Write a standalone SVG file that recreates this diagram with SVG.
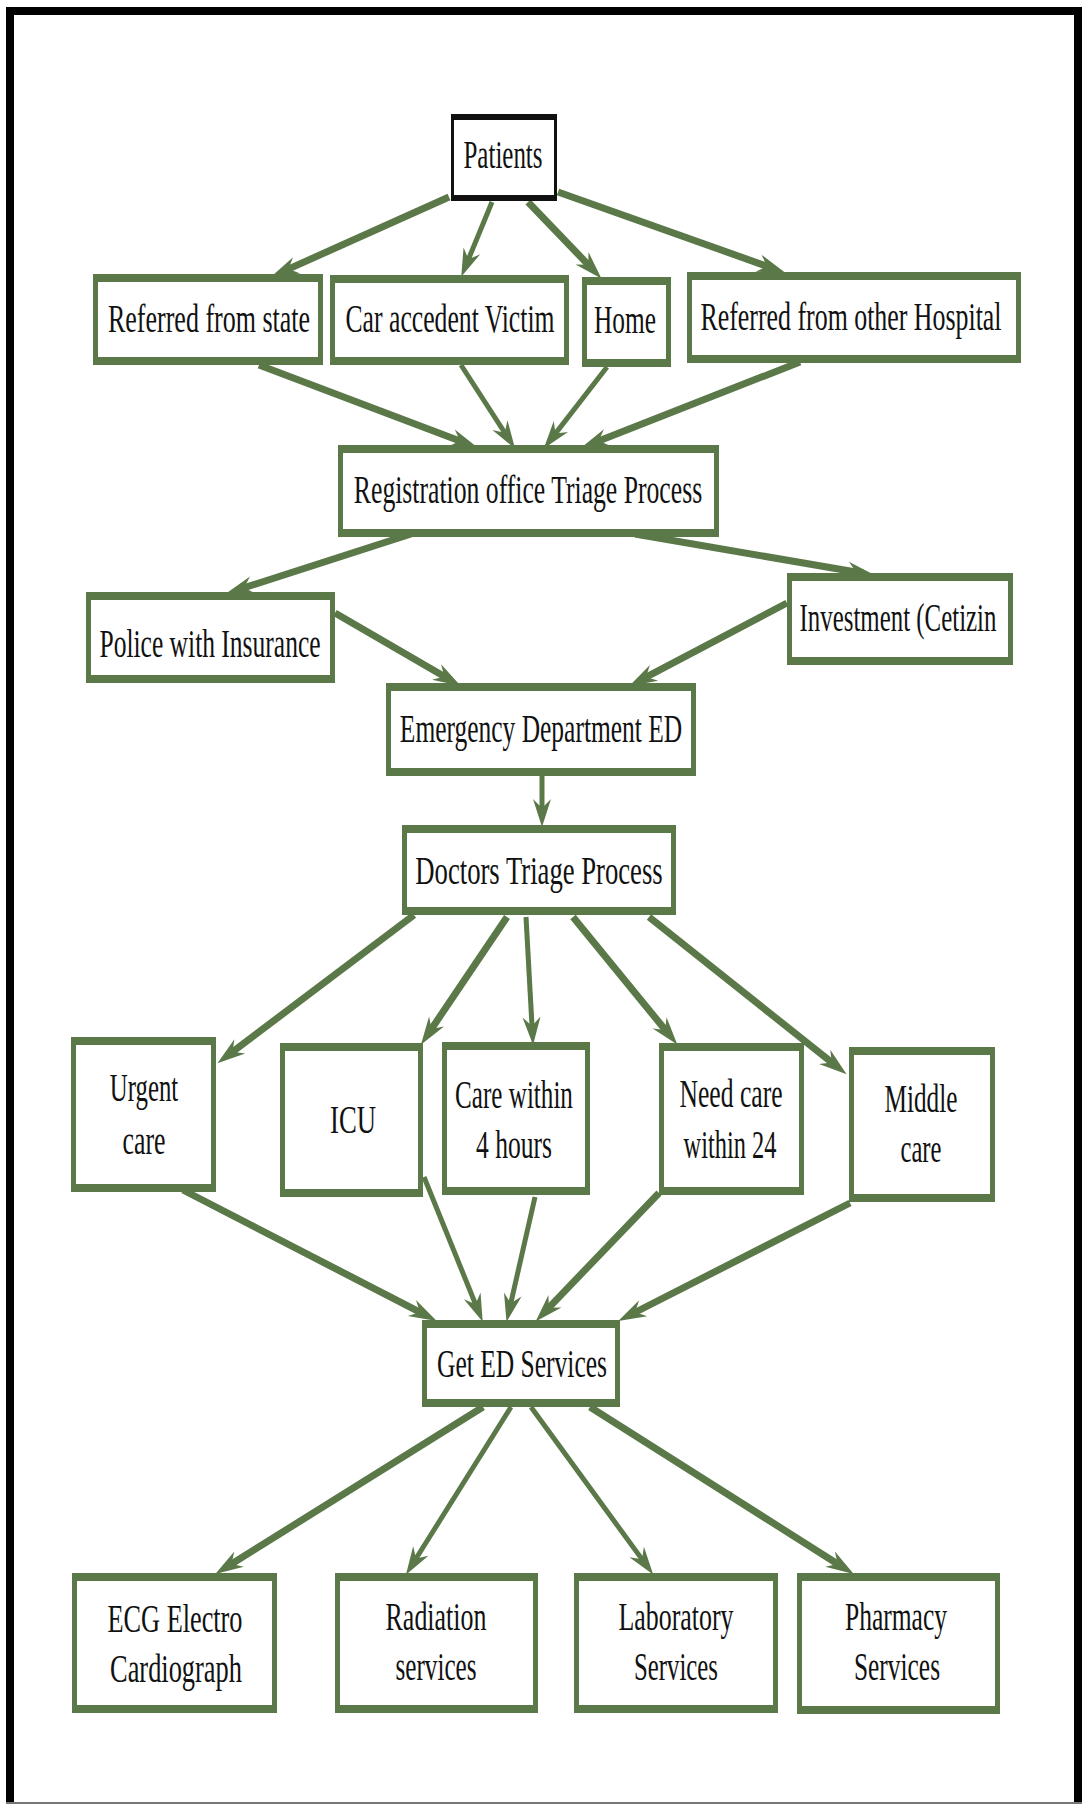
<svg xmlns="http://www.w3.org/2000/svg" width="1082" height="1804" viewBox="0 0 1082 1804">
<style>
.bx{fill:#5a7848}
.in{fill:#ffffff}
.pbx{fill:#111111}
.t{font-family:"Liberation Serif","Times New Roman",serif;font-size:40px;fill:#111;text-anchor:middle}
.c line{stroke:#5a7848;stroke-width:7;marker-end:url(#ah)}
.c line.th{stroke-width:5}
</style>
<defs>
<marker id="ah" markerUnits="userSpaceOnUse" markerWidth="40" markerHeight="30" refX="0" refY="0" viewBox="-20 -15 40 30" orient="auto" overflow="visible">
<path d="M12,0 L-16,-9 L-7,0 L-16,9 Z" fill="#5a7848"/>
</marker>
</defs>
<rect x="0" y="0" width="1082" height="1804" fill="#ffffff"/>
<g id="frame">
<rect x="6" y="7" width="8" height="1797" fill="#000"/>
<rect x="6" y="7" width="1076" height="8" fill="#000"/>
<rect x="1074" y="7" width="8" height="1797" fill="#000"/>
<rect x="6" y="1802" width="1076" height="2" fill="#777"/>
</g>
<g class="c" id="connectors">
<line x1="449" y1="197" x2="282.1" y2="271.9"/>
<line x1="492" y1="202" x2="465.8" y2="265.7" class="th"/>
<line x1="528" y1="202" x2="593.1" y2="269.8"/>
<line x1="558" y1="192" x2="773.6" y2="268.6"/>
<line x1="259" y1="365" x2="466.6" y2="443.5"/>
<line x1="461" y1="365" x2="508.6" y2="438.6" class="th"/>
<line x1="607" y1="367" x2="551.1" y2="439.1" class="th"/>
<line x1="800" y1="362" x2="592.3" y2="443.4"/>
<line x1="411" y1="534" x2="237.5" y2="589.9"/>
<line x1="635" y1="534" x2="863.1" y2="573.3"/>
<line x1="335" y1="613" x2="450.4" y2="680"/>
<line x1="787" y1="603" x2="639.9" y2="680.3"/>
<line x1="542" y1="776" x2="542" y2="815" class="th"/>
<line x1="414" y1="915" x2="227" y2="1056"/>
<line x1="507" y1="917" x2="427.6" y2="1034.7"/>
<line x1="526" y1="917" x2="532.4" y2="1033" class="th"/>
<line x1="573" y1="917" x2="669.7" y2="1035.3"/>
<line x1="649" y1="917" x2="837.2" y2="1066.8"/>
<line x1="183" y1="1190" x2="426.1" y2="1315.4"/>
<line x1="424" y1="1177" x2="478.2" y2="1310.7" class="th"/>
<line x1="535" y1="1197" x2="509.2" y2="1310.2" class="th"/>
<line x1="659" y1="1193" x2="543.9" y2="1312.8"/>
<line x1="850" y1="1203" x2="628.9" y2="1315.5"/>
<line x1="483" y1="1407" x2="225.5" y2="1567.7"/>
<line x1="511" y1="1407" x2="412.3" y2="1564.5" class="th"/>
<line x1="531" y1="1407" x2="646.1" y2="1564.9" class="th"/>
<line x1="590" y1="1407" x2="843.6" y2="1567.7"/>
</g>
<g id="patients">
<rect class="pbx" x="451" y="114" width="106" height="87"/>
<rect class="in" x="454" y="120" width="100" height="75"/>
<text class="t" transform="matrix(0.624 0 0 1 503 168)">Patients</text>
</g>
<g id="referred-state">
<rect class="bx" x="93" y="274" width="230" height="91"/>
<rect class="in" x="98" y="282" width="220" height="75"/>
<text class="t" transform="matrix(0.65 0 0 1 209 332)">Referred from state</text>
</g>
<g id="car-victim">
<rect class="bx" x="330" y="275" width="239" height="90"/>
<rect class="in" x="335" y="283" width="229" height="74"/>
<text class="t" transform="matrix(0.642 0 0 1 450 332)">Car accedent Victim</text>
</g>
<g id="home">
<rect class="bx" x="582" y="277" width="89" height="90"/>
<rect class="in" x="587" y="285" width="79" height="74"/>
<text class="t" transform="matrix(0.634 0 0 1 625 333)">Home</text>
</g>
<g id="referred-hospital">
<rect class="bx" x="687" y="272" width="334" height="91"/>
<rect class="in" x="692" y="280" width="324" height="75"/>
<text class="t" transform="matrix(0.647 0 0 1 851 330)">Referred from other Hospital</text>
</g>
<g id="registration">
<rect class="bx" x="338" y="445" width="381" height="92"/>
<rect class="in" x="343" y="453" width="371" height="76"/>
<text class="t" transform="matrix(0.642 0 0 1 528 503)">Registration office Triage Process</text>
</g>
<g id="police">
<rect class="bx" x="86" y="592" width="249" height="91"/>
<rect class="in" x="91" y="600" width="239" height="75"/>
<text class="t" transform="matrix(0.638 0 0 1 210 657)">Police with Insurance</text>
</g>
<g id="investment">
<rect class="bx" x="787" y="573" width="226" height="92"/>
<rect class="in" x="792" y="581" width="216" height="76"/>
<text class="t" transform="matrix(0.622 0 0 1 898 631)">Investment (Cetizin</text>
</g>
<g id="emergency">
<rect class="bx" x="386" y="683" width="310" height="93"/>
<rect class="in" x="391" y="691" width="300" height="77"/>
<text class="t" transform="matrix(0.637 0 0 1 541 742)">Emergency Department ED</text>
</g>
<g id="doctors">
<rect class="bx" x="402" y="825" width="274" height="90"/>
<rect class="in" x="407" y="833" width="264" height="74"/>
<text class="t" transform="matrix(0.667 0 0 1 539 884)">Doctors Triage Process</text>
</g>
<g id="urgent">
<rect class="bx" x="71" y="1037" width="145" height="155"/>
<rect class="in" x="76" y="1045" width="135" height="139"/>
<text class="t" transform="matrix(0.621 0 0 1 144 1101)">Urgent</text>
<text class="t" transform="matrix(0.646 0 0 1 144 1154)">care</text>
</g>
<g id="icu">
<rect class="bx" x="280" y="1043" width="143" height="154"/>
<rect class="in" x="285" y="1051" width="133" height="138"/>
<text class="t" transform="matrix(0.668 0 0 1 353 1133)">ICU</text>
</g>
<g id="care4">
<rect class="bx" x="442" y="1042" width="148" height="153"/>
<rect class="in" x="447" y="1050" width="138" height="137"/>
<text class="t" transform="matrix(0.628 0 0 1 514 1108)">Care within</text>
<text class="t" transform="matrix(0.639 0 0 1 514 1158)">4 hours</text>
</g>
<g id="need24">
<rect class="bx" x="659" y="1043" width="145" height="152"/>
<rect class="in" x="664" y="1051" width="135" height="136"/>
<text class="t" transform="matrix(0.64 0 0 1 731 1107)">Need care</text>
<text class="t" transform="matrix(0.611 0 0 1 730 1158)">within 24</text>
</g>
<g id="middle">
<rect class="bx" x="849" y="1047" width="146" height="155"/>
<rect class="in" x="854" y="1055" width="136" height="139"/>
<text class="t" transform="matrix(0.632 0 0 1 921 1112)">Middle</text>
<text class="t" transform="matrix(0.616 0 0 1 921 1162)">care</text>
</g>
<g id="get-ed">
<rect class="bx" x="422" y="1320" width="198" height="87"/>
<rect class="in" x="427" y="1328" width="188" height="71"/>
<text class="t" transform="matrix(0.638 0 0 1 522 1377)">Get ED Services</text>
</g>
<g id="ecg">
<rect class="bx" x="72" y="1573" width="205" height="140"/>
<rect class="in" x="77" y="1581" width="195" height="124"/>
<text class="t" transform="matrix(0.657 0 0 1 175 1632)">ECG Electro</text>
<text class="t" transform="matrix(0.66 0 0 1 176 1682)">Cardiograph</text>
</g>
<g id="radiation">
<rect class="bx" x="335" y="1573" width="203" height="140"/>
<rect class="in" x="340" y="1581" width="193" height="124"/>
<text class="t" transform="matrix(0.649 0 0 1 436 1630)">Radiation</text>
<text class="t" transform="matrix(0.629 0 0 1 436 1680)">services</text>
</g>
<g id="laboratory">
<rect class="bx" x="574" y="1573" width="204" height="140"/>
<rect class="in" x="579" y="1581" width="194" height="124"/>
<text class="t" transform="matrix(0.647 0 0 1 676 1630)">Laboratory</text>
<text class="t" transform="matrix(0.62 0 0 1 676 1680)">Services</text>
</g>
<g id="pharmacy">
<rect class="bx" x="797" y="1573" width="203" height="141"/>
<rect class="in" x="802" y="1581" width="193" height="125"/>
<text class="t" transform="matrix(0.638 0 0 1 896 1630)">Pharmacy</text>
<text class="t" transform="matrix(0.635 0 0 1 897 1680)">Services</text>
</g>
</svg>
